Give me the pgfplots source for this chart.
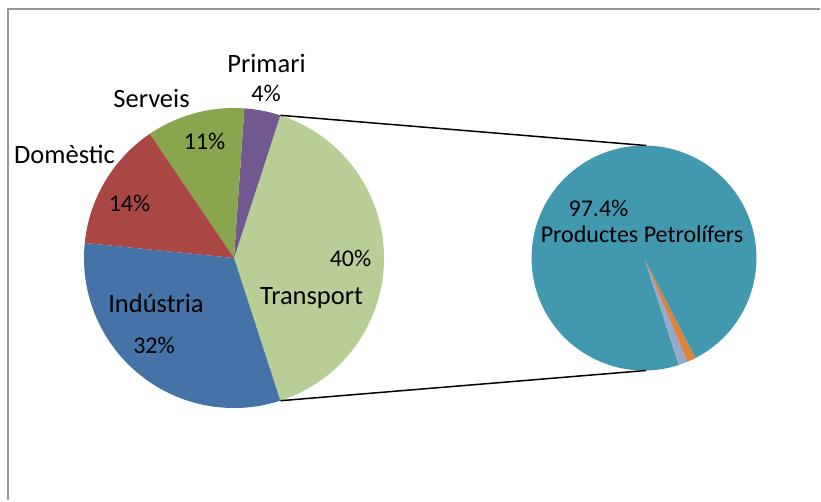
\documentclass[border=0pt]{standalone}
\usepackage{fontspec}
\setmainfont{Carlito}
\usepackage{pgfplots}
\pgfplotsset{compat=1.18}
\definecolor{cInd}{HTML}{4572A7}
\definecolor{cDom}{HTML}{AA4643}
\definecolor{cSer}{HTML}{89A54E}
\definecolor{cPri}{HTML}{71588F}
\definecolor{cTra}{HTML}{B9CD96}
\definecolor{cPet}{HTML}{4198AF}
\definecolor{cOra}{HTML}{DB843D}
\definecolor{cLav}{HTML}{93A9CF}
\definecolor{cPin}{HTML}{D19392}
\definecolor{cFrame}{HTML}{969696}
\tikzset{lbl/.style={anchor=base,inner sep=0pt,font=\fontsize{26.5}{30}\selectfont},
         pct/.style={anchor=base,inner sep=0pt,font=\fontsize{24}{28}\selectfont}}
% slice: cx, cy, r, cumulative % before, share %, colour  (first slice starts at -72 deg)
\newcommand{\pieslice}[6]{%
  \pgfmathsetmacro\angA{-72+3.6*(#4)}%
  \pgfmathsetmacro\angB{-72+3.6*(#4+#5)}%
  \edef\doslice{\noexpand\addplot[draw=none,fill=#6,domain=\angA:\angB,samples=100,variable=\noexpand\t]
    ({#1+#3*cos(\noexpand\t)},{#2-#3*sin(\noexpand\t)}) -- (axis cs:#1,#2) -- cycle;}%
  \doslice}
\begin{document}
\begin{tikzpicture}
\begin{axis}[width=821pt,height=501pt,scale only axis,
  xmin=0,xmax=821,ymin=0,ymax=501,y dir=reverse,hide axis,clip=false]
% chart-area frame: only its top and left edges fall inside the picture
\draw[cFrame,line width=2pt] (axis cs:8,500) -- (axis cs:8,9) -- (axis cs:820,9);
% main pie: Transport 40, Primari 3.9, Serveis 10.6, Domestic 13.9, Industria 31.6
\pieslice{234}{258}{150}{0}{40}{cTra}
\pieslice{234}{258}{150}{40}{3.9}{cPri}
\pieslice{234}{258}{150}{43.9}{10.6}{cSer}
\pieslice{234}{258}{150}{54.5}{13.9}{cDom}
\pieslice{234}{258}{150}{68.4}{31.6}{cInd}
% secondary pie (breakdown of Transport)
\pieslice{644}{258}{112.5}{0}{0.1}{cPin}
\pieslice{644}{258}{112.5}{0.1}{1.2}{cLav}
\pieslice{644}{258}{112.5}{1.3}{1.3}{cOra}
\pieslice{644}{258}{112.5}{2.6}{97.4}{cPet}
% connector lines
\draw[black,line width=1.5pt] (axis cs:280.4,115.3) -- (axis cs:646,145.5);
\draw[black,line width=1.5pt] (axis cs:280.4,400.7) -- (axis cs:646,370.5);
% labels
\node[lbl] at (axis cs:266.5,72) {Primari};
\node[pct] at (axis cs:266,101) {4\%};
\node[lbl] at (axis cs:151.5,107) {Serveis};
\node[pct] at (axis cs:204.5,149) {11\%};
\node[lbl] at (axis cs:64.5,163) {Domèstic};
\node[pct] at (axis cs:129.5,211) {14\%};
\node[lbl] at (axis cs:156,312) {Indústria};
\node[pct] at (axis cs:154,353) {32\%};
\node[pct] at (axis cs:350.5,266) {40\%};
\node[lbl] at (axis cs:311.5,304) {Transport};
\node[pct] at (axis cs:598.5,216) {97.4\%};
\node[pct] at (axis cs:642,242) {Productes Petrolífers};
\end{axis}
\pgfresetboundingbox
\useasboundingbox (current axis.south west) rectangle (current axis.north east);
\end{tikzpicture}
\end{document}
